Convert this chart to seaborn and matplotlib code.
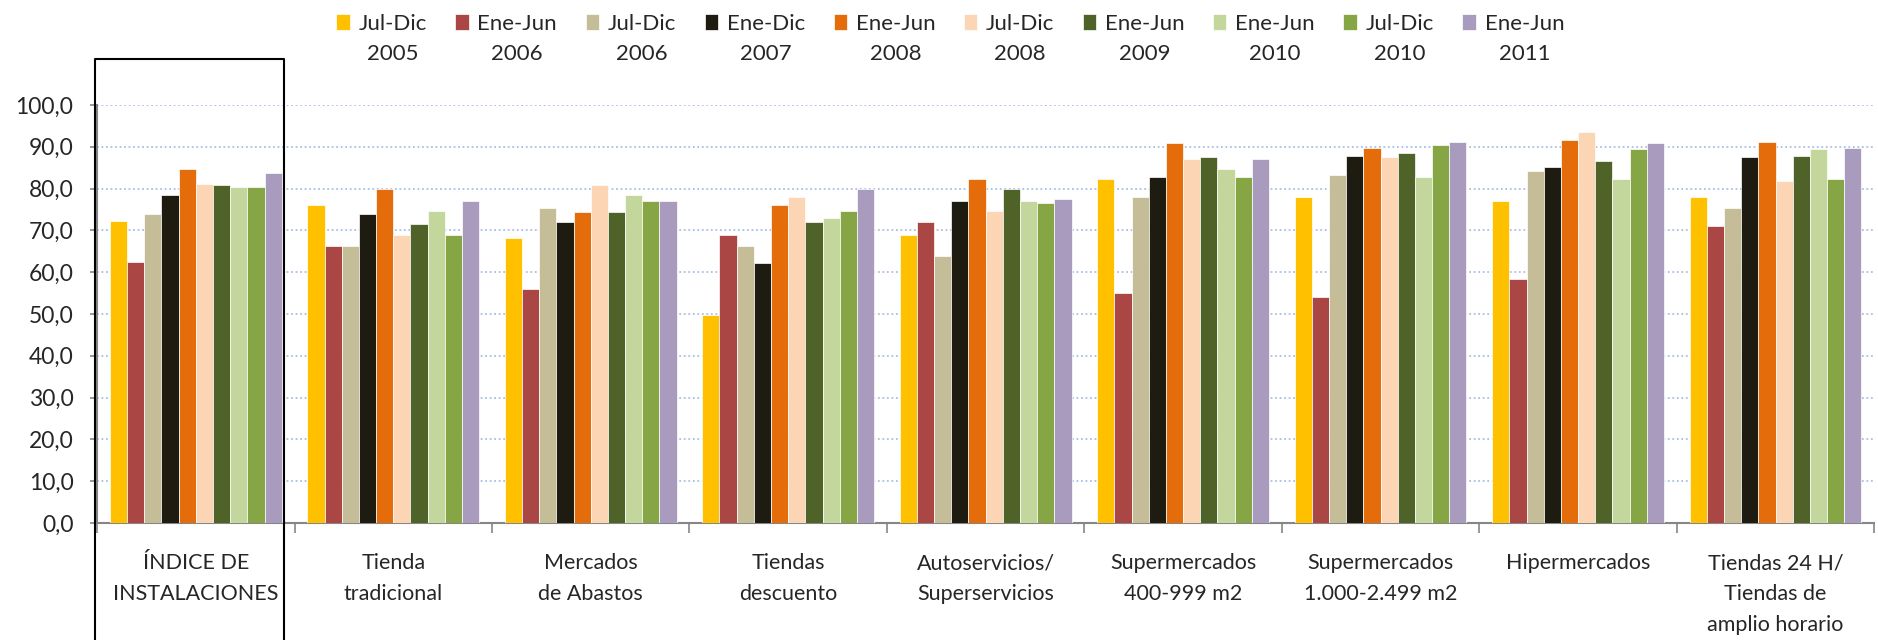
import numpy as np
import pandas as pd
import seaborn as sns
import matplotlib.pyplot as plt
from matplotlib.ticker import FuncFormatter, MultipleLocator, FixedLocator
from matplotlib.lines import Line2D

categories = ["ÍNDICE DE\nINSTALACIONES", "Tienda\ntradicional", "Mercados\nde Abastos",
              "Tiendas\ndescuento", "Autoservicios/\nSuperservicios", "Supermercados\n400-999 m2",
              "Supermercados\n1.000-2.499 m2", "Hipermercados",
              "Tiendas 24 H/\nTiendas de\namplio horario"]
periods = ["Jul-Dic\n2005", "Ene-Jun\n2006", "Jul-Dic\n2006", "Ene-Dic\n2007", "Ene-Jun\n2008",
           "Jul-Dic\n2008", "Ene-Jun\n2009", "Ene-Jun\n2010", "Jul-Dic\n2010", "Ene-Jun\n2011"]
colors = ["#FFC000", "#AA4644", "#C4BD97", "#1E1C11", "#E46C0A",
          "#FCD5B5", "#4F6228", "#C3D69B", "#86A544", "#A99BBD"]

# one list per period, values per category
jd2005 = [72.3, 76.1, 68.2, 49.7, 69.0, 82.2, 78.0, 77.1, 78.0]
ej2006 = [62.5, 66.2, 55.9, 69.0, 71.9, 55.0, 54.0, 58.3, 71.0]
jd2006 = [73.8, 66.2, 75.3, 66.2, 63.8, 78.0, 83.2, 84.2, 75.3]
ed2007 = [78.5, 73.8, 71.9, 62.1, 77.1, 82.7, 87.9, 85.1, 87.5]
ej2008 = [84.6, 79.9, 74.3, 76.1, 82.2, 90.8, 89.8, 91.7, 91.2]
jd2008 = [81.2, 69.0, 80.8, 78.0, 74.7, 87.0, 87.5, 93.6, 81.8]
ej2009 = [80.8, 71.4, 74.3, 71.9, 79.9, 87.5, 88.4, 86.6, 87.9]
ej2010 = [80.4, 74.7, 78.5, 72.9, 77.1, 84.6, 82.7, 82.2, 89.4]
jd2010 = [80.4, 69.0, 77.1, 74.7, 76.6, 82.7, 90.3, 89.4, 82.2]
ej2011 = [83.7, 77.1, 77.1, 79.9, 77.6, 87.0, 91.2, 90.8, 89.8]
series = [jd2005, ej2006, jd2006, ed2007, ej2008, jd2008, ej2009, ej2010, jd2010, ej2011]

rows = []
for p, vals in zip(periods, series):
    for c, v in zip(categories, vals):
        rows.append({"cat": c, "periodo": p, "valor": v})
df = pd.DataFrame(rows)

sns.set_style("white")
plt.rcParams['font.family'] = ['Lato', 'DejaVu Sans']

fig = plt.figure(figsize=(18.78, 6.4), dpi=100)
ax = fig.add_axes([0.0517, 0.183, 0.9463, 0.653])

sns.barplot(data=df, x="cat", y="valor", hue="periodo", order=categories, hue_order=periods,
            palette=colors, saturation=1, width=0.87, ax=ax, edgecolor="white", linewidth=0.5,
            zorder=3)

ax.set_ylim(0, 100)
ax.set_xlim(-0.5, len(categories) - 0.5)
ax.yaxis.set_major_locator(MultipleLocator(10))
ax.yaxis.set_major_formatter(FuncFormatter(lambda v, _: f"{v:.1f}".replace(".", ",")))
ax.yaxis.grid(True, color="#A9BFE6", linestyle=(0, (1, 1.5)), linewidth=1.3, zorder=0)
ax.set_axisbelow(True)
ax.set_xlabel("")
ax.set_ylabel("")

for s in ["top", "right"]:
    ax.spines[s].set_visible(False)
for s in ["left", "bottom"]:
    ax.spines[s].set_color("#868686")
    ax.spines[s].set_linewidth(1.5)

ax.tick_params(axis="y", direction="out", length=5, width=1.2, color="#868686",
               labelsize=16.5, pad=12, left=True)
ax.tick_params(axis="x", which="major", length=0, labelsize=15.5, pad=22)
ax.xaxis.set_minor_locator(FixedLocator(np.arange(-0.5, len(categories), 1)))
ax.tick_params(axis="x", which="minor", direction="out", length=7, width=1.2,
               color="#868686", bottom=True)
ax.set_xticks(range(len(categories)))
ax.set_xticklabels(categories, linespacing=1.66)

leg = ax.legend(loc="upper center", bbox_to_anchor=(0.506, 1.01), bbox_transform=fig.transFigure,
                ncol=10, frameon=False, fontsize=16, handlelength=0.6, handleheight=0.75,
                handletextpad=0.4, columnspacing=1.28, labelspacing=0.2)
for t in leg.get_texts():
    t.set_multialignment("center")
    t.set_linespacing(1.62)
# put each colour square level with the first text line
for col in leg._legend_handle_box.get_children():
    for item in col.get_children():
        item.align = "top"

# box around the index group
x0, x1, y0 = 95, 284, 581
fig.add_artist(Line2D([x0 / 1878, x0 / 1878, x1 / 1878, x1 / 1878],
                      [0, y0 / 640, y0 / 640, 0], color="black", linewidth=1.5,
                      transform=fig.transFigure))

plt.savefig("out.png", dpi=100)
